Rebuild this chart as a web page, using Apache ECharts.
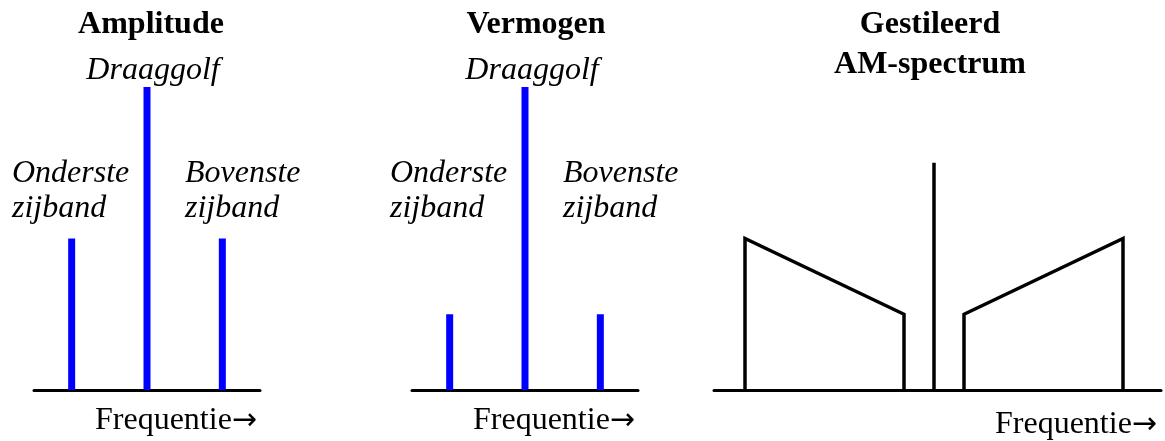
<!DOCTYPE html>
<html>
<head>
<meta charset="utf-8">
<script src="https://cdn.jsdelivr.net/npm/echarts@6/dist/echarts.min.js"></script>
<style>
  html, body { margin: 0; padding: 0; background: #fff; }
  #chart { width: 1165px; height: 441px; }
</style>
</head>
<body>
<div id="chart"></div>
<script>
// frequency positions of the three spectral lines (lower sideband, carrier, upper sideband)
const lineFreqs = [1, 3, 5];
const amplitudeLevels = [0.5, 1, 0.5];
const powerLevels = [0.25, 1, 0.25];

// stylised AM spectrum: band edges (relative to carrier) and their levels
const bandEdgeFreqs = [-18.9, -3.0, 3.0, 18.9];
const bandEdgeLevels = [0.5, 0.25, 0.25, 0.5];
const carrierFreq = 0;
const carrierLevel = 0.75;

const panelTitles = ['Amplitude', 'Vermogen'];
const carrierLabel = 'Draaggolf';
const lowerLabel = ['Onderste', 'zijband'];
const upperLabel = ['Bovenste', 'zijband'];
const axisLabel = 'Frequentie';

const serif = '"Liberation Serif", "Times New Roman", serif';
const blue = '#0000ff';
const size = 32;

const chart = echarts.init(document.getElementById('chart'));

function pairs(xs, ys) {
  return xs.map((x, i) => [x, ys[i]]);
}

function baseX(gridIndex, min, max) {
  return {
    type: 'value', gridIndex, min, max,
    axisLine: { show: true, onZero: true, lineStyle: { color: '#000', width: 3 } },
    axisTick: { show: false },
    axisLabel: { show: false },
    splitLine: { show: false }
  };
}

function baseY(gridIndex) {
  return {
    type: 'value', gridIndex, min: 0, max: 1,
    axisLine: { show: false }, axisTick: { show: false },
    axisLabel: { show: false }, splitLine: { show: false }
  };
}

function txt(text, x, y, style) {
  return {
    type: 'text', x, y,
    style: Object.assign({
      text, fill: '#000', font: size + 'px ' + serif,
      textAlign: 'left', textVerticalAlign: 'middle'
    }, style || {})
  };
}

const bold = { font: 'bold ' + size + 'px ' + serif };
const italic = { font: 'italic ' + size + 'px ' + serif };

// "Frequentie" followed by a long thin arrow
function freqLabel(x, y) {
  return {
    type: 'text', x, y,
    style: {
      text: '{t|' + axisLabel + '}{a|\u2192}',
      textVerticalAlign: 'middle',
      rich: {
        t: { fontFamily: serif, fontSize: size, color: '#000' },
        a: { fontFamily: '"DejaVu Sans", sans-serif', fontSize: 30, color: '#000' }
      }
    }
  };
}

const lowerBand = [
  [bandEdgeFreqs[0], 0],
  [bandEdgeFreqs[0], bandEdgeLevels[0]],
  [bandEdgeFreqs[1], bandEdgeLevels[1]],
  [bandEdgeFreqs[1], 0]
];
const upperBand = [
  [bandEdgeFreqs[2], 0],
  [bandEdgeFreqs[2], bandEdgeLevels[2]],
  [bandEdgeFreqs[3], bandEdgeLevels[3]],
  [bandEdgeFreqs[3], 0]
];
const carrierLine = [[carrierFreq, 0], [carrierFreq, carrierLevel]];

const blackLine = (data) => ({
  type: 'line', xAxisIndex: 2, yAxisIndex: 2, data,
  symbol: 'none', silent: true,
  lineStyle: { color: '#000', width: 3.5, join: 'miter' }
});

const option = {
  animation: false,
  backgroundColor: '#fff',
  grid: [
    { left: 34, width: 226, top: 87, bottom: 51 },
    { left: 412, width: 226, top: 87, bottom: 51 },
    { left: 714, width: 447, top: 87, bottom: 51 }
  ],
  xAxis: [baseX(0, 0, 6), baseX(1, 0, 6), baseX(2, -22, 22.7)],
  yAxis: [baseY(0), baseY(1), baseY(2)],
  series: [
    {
      type: 'bar', xAxisIndex: 0, yAxisIndex: 0, barWidth: 7,
      data: pairs(lineFreqs, amplitudeLevels),
      itemStyle: { color: blue }
    },
    {
      type: 'bar', xAxisIndex: 1, yAxisIndex: 1, barWidth: 7,
      data: pairs(lineFreqs, powerLevels),
      itemStyle: { color: blue }
    },
    blackLine(lowerBand),
    blackLine(carrierLine),
    blackLine(upperBand)
  ],
  graphic: [
    // panel 1
    txt(panelTitles[0], 151, 25, Object.assign({ textAlign: 'center' }, bold)),
    txt(carrierLabel, 153, 71, Object.assign({ textAlign: 'center' }, italic)),
    txt(lowerLabel[0], 12, 174, italic),
    txt(lowerLabel[1], 12, 209, italic),
    txt(upperLabel[0], 185, 174, italic),
    txt(upperLabel[1], 185, 209, italic),
    freqLabel(95, 421),
    // panel 2
    txt(panelTitles[1], 536, 25, Object.assign({ textAlign: 'center' }, bold)),
    txt(carrierLabel, 532, 71, Object.assign({ textAlign: 'center' }, italic)),
    txt(lowerLabel[0], 390, 174, italic),
    txt(lowerLabel[1], 390, 209, italic),
    txt(upperLabel[0], 563, 174, italic),
    txt(upperLabel[1], 563, 209, italic),
    freqLabel(473, 421),
    // panel 3
    txt('Gestileerd', 930, 25, Object.assign({ textAlign: 'center' }, bold)),
    txt('AM-spectrum', 930, 65, Object.assign({ textAlign: 'center' }, bold)),
    freqLabel(995, 425)
  ]
};

chart.setOption(option);
</script>
</body>
</html>
